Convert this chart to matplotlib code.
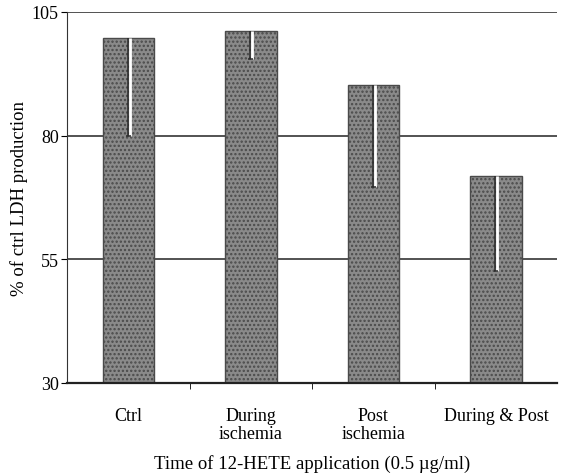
import numpy as np
import matplotlib
matplotlib.use("Agg")
import matplotlib.pyplot as plt

categories = ["Ctrl", "During\nischemia", "Post\nischemia", "During & Post"]
ldh_pct = [99.7, 101.2, 90.2, 71.8]
err_low = [19.7, 5.7, 20.6, 19.2]
y_ticks = [30, 55, 80, 105]

plt.rcParams["font.family"] = ["Liberation Serif", "DejaVu Serif"]
plt.rcParams["hatch.linewidth"] = 1.1

fig = plt.figure(figsize=(5.64, 4.77), dpi=100)
ax = fig.add_axes([0.119, 0.195, 0.869, 0.778])

x = np.arange(len(categories))
ax.set_xlim(-0.5, len(categories) - 0.5)
ax.set_ylim(30, 105)

# horizontal reference lines
for yv in y_ticks[1:]:
    ax.axhline(yv, color="#444444", lw=1.3, zorder=1)

bars = ax.bar(x, np.array(ldh_pct) - 30, bottom=30, width=0.42,
              color="#8a8a8a", edgecolor="#4a4a4a", hatch="....",
              linewidth=1.0, zorder=2)

# lower error bars drawn inside the bars
lows = np.array(ldh_pct) - np.array(err_low)
ax.vlines(x + 0.012, lows, ldh_pct, color="white", lw=2.0, zorder=3)
ax.vlines(x - 0.004, lows, ldh_pct, color="#2a2a2a", lw=1.1, zorder=4)
ax.hlines(lows, x - 0.02, x + 0.02, color="#2a2a2a", lw=1.1, zorder=4)

ax.spines["top"].set_visible(False)
ax.spines["right"].set_visible(False)
ax.spines["left"].set_color("#333333")
ax.spines["bottom"].set_color("#222222")
ax.spines["bottom"].set_linewidth(1.6)

ax.set_yticks(y_ticks)
ax.set_yticklabels([str(v) for v in y_ticks], fontsize=13)
ax.tick_params(axis="y", length=4, direction="out", pad=2)

ax.set_xticks(x)
ax.set_xticklabels(categories, fontsize=13, va="top", linespacing=1.1)
ax.tick_params(axis="x", length=0, pad=17)
ax.set_xticks(np.arange(len(categories) - 1) + 0.5, minor=True)
ax.tick_params(axis="x", which="minor", length=4, direction="out")

ax.set_xlabel("Time of 12-HETE application (0.5 µg/ml)", fontsize=13.5, labelpad=9)
ax.set_ylabel("% of ctrl LDH production", fontsize=13.5, labelpad=3)

fig.savefig("out.png", dpi=100)
